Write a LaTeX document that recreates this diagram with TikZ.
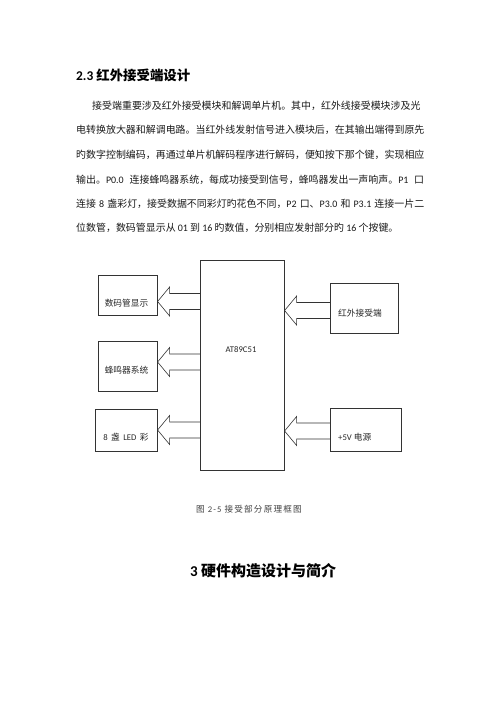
\documentclass[tikz,border=0pt]{standalone}
\usepackage{fontspec}
\setmainfont{Noto Sans CJK SC}
\newfontfamily\lat{Carlito}
\newfontfamily\capfont[LetterSpace=14]{Noto Sans CJK SC}
\newfontfamily\caplat[LetterSpace=14]{Carlito}
\usetikzlibrary{calc}
\XeTeXlinebreaklocale "zh"
\XeTeXlinebreakskip=0pt plus 1fil

\tikzset{
  box/.style={draw=black!80, line width=0.6pt, rectangle, inner sep=0pt},
  blk/.style={draw=black!80, line width=0.6pt, line join=miter},
  lbl/.style={font=\fontsize{8.7}{10}\selectfont, inner sep=0pt, text=black!85},
  para/.style={font=\fontsize{9.95}{12}\selectfont, inner sep=0pt, anchor=west, text=black!90},
}

% #1 base anchor (shaft end), #2 tip anchor, #3 y (picture units)
\newcommand\blockarr[3]{%
  \draw[blk] let \p1=(#1 |- 0,#3), \p2=(#2 |- 0,#3), \n1={sign(\x1-\x2)} in
    (\x1,\y1+8pt) -- (\x2+\n1*12pt,\y1+8pt) -- (\x2+\n1*12pt,\y1+14.5pt) -- (\p2)
    -- (\x2+\n1*12pt,\y1-14.5pt) -- (\x2+\n1*12pt,\y1-8pt) -- (\x1,\y1-8pt);
}

\begin{document}
\begin{tikzpicture}[x=1pt,y=-1pt]
\useasboundingbox (0,0) rectangle (500,707);

% heading
\node[anchor=west, inner sep=0pt, font=\fontsize{13.4}{15}\selectfont\bfseries] (title) at (76,75) {{\lat 2.3} 红外接受端设计};

% paragraph
\node[para] (p1) at (92,106) {\hbox to 332pt{接受端重要涉及红外接受模块和解调单片机。其中，红外线接受模块涉及光}};
\node[para] (p2) at (76,130) {\hbox to 348pt{电转换放大器和解调电路。当红外线发射信号进入模块后，在其输出端得到原先}};
\node[para] (p3) at (76,155) {\hbox to 348pt{旳数字控制编码，再通过单片机解码程序进行解码，便知按下那个键，实现相应}};
\node[para] (p4) at (76,179.5) {\hbox to 348pt{输出。{\lat P0.0} 连接蜂鸣器系统，每成功接受到信号，蜂鸣器发出一声响声。{\lat P1} 口}};
\node[para] (p5) at (76,203.5) {\hbox to 348pt{连接 {\lat 8} 盏彩灯，接受数据不同彩灯旳花色不同，{\lat P2} 口、{\lat P3.0} 和 {\lat P3.1} 连接一片二}};
\node[para] (p6) at (76,227.5) {位数管，数码管显示从 {\lat 01} 到 {\lat 16} 旳数值，分别相应发射部分旳 {\lat 16} 个按键。};

% diagram boxes
\node[box, minimum width=83.6pt, minimum height=210.7pt] (mcu) at (242.5,365.35) {};
\node[box, minimum width=59pt, minimum height=40pt] (d1) at (127.8,295) {};
\node[box, minimum width=59pt, minimum height=50pt] (d2) at (127.8,366.7) {};
\node[box, minimum width=62pt, minimum height=42.4pt] (d3) at (126.3,430.5) {};
\node[box, minimum width=67.6pt, minimum height=50pt] (r1) at (364.5,308.3) {};
\node[box, minimum width=71pt, minimum height=43.7pt] (r2) at (366.2,429.85) {};

% labels
\node[lbl] (mcut) at (241,350) {\lat AT89C51};
\node[lbl] (d1t) at (126.5,303) {数码管显示};
\node[lbl] (d2t) at (126.5,370) {蜂鸣器系统};
\node[lbl] (d3t) at (126,436.7) {{\lat 8}\, 盏\, {\lat LED}\, 彩};
\node[lbl, anchor=west] (r1t) at (338,312.7) {红外接受端};
\node[lbl, anchor=west] (r2t) at (338,436.7) {{\lat +5V} 电源};

% block arrows
\blockarr{mcu.west}{d1.east}{301.5}
\blockarr{mcu.west}{d2.east}{362}
\blockarr{mcu.west}{d3.east}{430}
\blockarr{r1.west}{mcu.east}{310.5}
\blockarr{r2.west}{mcu.east}{431}

% caption
\node[inner sep=0pt, anchor=west, font=\fontsize{8.6}{10}\selectfont\capfont, text=black!75] (cap) at (196,509) {图\kern3pt{\caplat 2-5}\kern3pt接受部分原理框图};

% section heading
\node[anchor=west, inner sep=0pt, font=\fontsize{15}{17}\selectfont\bfseries] (sec) at (190,571) {{\lat 3} 硬件构造设计与简介};
\end{tikzpicture}
\end{document}
